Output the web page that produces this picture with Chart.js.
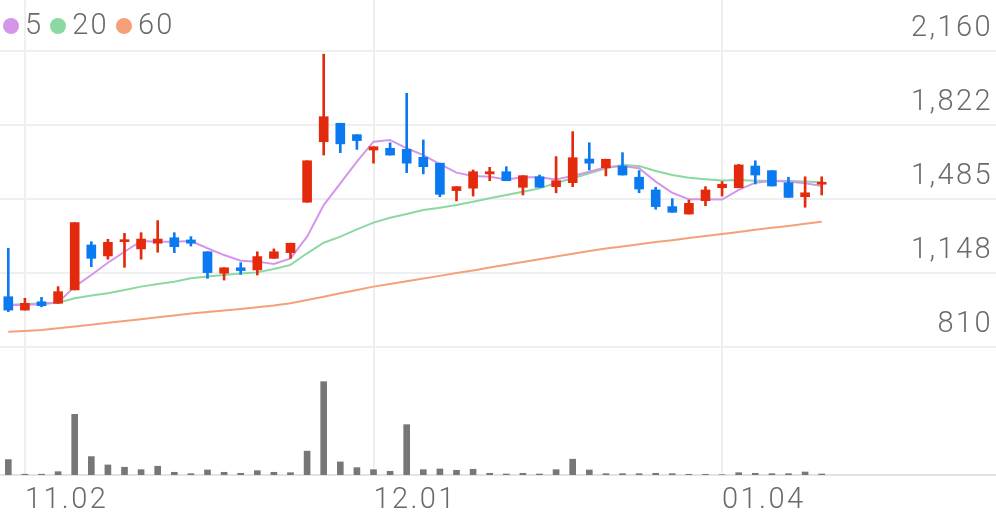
<!DOCTYPE html>
<html>
<head>
<meta charset="utf-8">
<script src="https://cdn.jsdelivr.net/npm/chart.js@4.4.1/dist/chart.umd.min.js"></script>
<style>
  html, body { margin: 0; padding: 0; background: #fff; }
  #wrap { position: relative; width: 996px; height: 519px; }
  #legend {
    position: absolute; left: 3px; top: 8px;
    display: flex; align-items: center; gap: 7px;
    font-family: Roboto, sans-serif; font-weight: 300; font-size: 29px;
    letter-spacing: 2.2px; line-height: 32px; color: #6a6a6a;
  }
  #legend .item { display: flex; align-items: center; }
  #legend .dot { width: 16px; height: 16px; border-radius: 50%; margin: 3px 6px 0 0; }
</style>
</head>
<body>
<div id="wrap">
  <canvas id="chart" width="996" height="519"></canvas>
  <div id="legend"></div>
</div>
<script>
// Торговые дни (ноябрь 2023 - январь 2024)
const dates = [
    '11.01', '11.02', '11.03', '11.06', '11.07', '11.08', '11.09', '11.10', '11.13', '11.14',
    '11.15', '11.16', '11.17', '11.20', '11.21', '11.22', '11.23', '11.24', '11.27', '11.28',
    '11.29', '11.30', '12.01', '12.04', '12.05', '12.06', '12.07', '12.08', '12.11', '12.12',
    '12.13', '12.14', '12.15', '12.18', '12.19', '12.20', '12.21', '12.22', '12.26', '12.27',
    '12.28', '01.02', '01.03', '01.04', '01.05', '01.08', '01.09', '01.10', '01.11', '01.12'
];
const emptySlots = 10; // пустое место справа
const shownDates = ['11.02', '12.01', '01.04'];

// Свечи
const openPrices = [1038, 977, 1015, 1008, 1069, 1274, 1224, 1289, 1256, 1282, 1307, 1297, 1243, 1145, 1170, 1160, 1213, 1239, 1469, 1745, 1829, 1777, 1707, 1715, 1710, 1674, 1647, 1522, 1533, 1598, 1608, 1537, 1585, 1540, 1558, 1666, 1626, 1634, 1583, 1525, 1449, 1415, 1476, 1535, 1535, 1634, 1613, 1558, 1494, 1551];
const highPrices = [1259, 1031, 1035, 1084, 1376, 1289, 1300, 1327, 1330, 1385, 1330, 1312, 1243, 1170, 1193, 1243, 1256, 1282, 1658, 2144, 1829, 1777, 1722, 1740, 1966, 1753, 1647, 1540, 1616, 1628, 1631, 1590, 1593, 1677, 1791, 1740, 1665, 1695, 1613, 1537, 1485, 1479, 1540, 1563, 1641, 1658, 1613, 1583, 1585, 1585];
const lowPrices = [970, 977, 992, 1008, 1069, 1175, 1209, 1172, 1209, 1241, 1239, 1269, 1122, 1114, 1140, 1137, 1213, 1213, 1469, 1684, 1695, 1710, 1647, 1684, 1604, 1598, 1494, 1475, 1497, 1567, 1567, 1502, 1537, 1512, 1540, 1616, 1589, 1593, 1512, 1437, 1423, 1415, 1453, 1497, 1535, 1552, 1543, 1491, 1446, 1502];
const closePrices = [977, 1008, 997, 1061, 1376, 1213, 1286, 1297, 1301, 1301, 1266, 1282, 1148, 1170, 1157, 1221, 1243, 1282, 1658, 1859, 1735, 1750, 1722, 1684, 1647, 1631, 1505, 1540, 1608, 1608, 1567, 1590, 1537, 1567, 1672, 1647, 1665, 1593, 1529, 1449, 1423, 1464, 1525, 1551, 1639, 1593, 1543, 1491, 1512, 1560];

// Скользящие средние
const ma5 = [1000, 1000, 1005, 1011, 1084, 1137, 1193, 1243, 1292, 1289, 1289, 1292, 1259, 1228, 1202, 1198, 1187, 1213, 1312, 1456, 1555, 1654, 1745, 1753, 1715, 1684, 1643, 1604, 1589, 1585, 1573, 1583, 1583, 1573, 1589, 1608, 1628, 1634, 1624, 1563, 1512, 1482, 1482, 1481, 1525, 1558, 1566, 1563, 1555, 1543];
const ma20 = [1000, 1005, 1007, 1011, 1031, 1044, 1054, 1069, 1084, 1096, 1106, 1122, 1130, 1137, 1144, 1149, 1164, 1183, 1236, 1284, 1312, 1345, 1376, 1398, 1415, 1433, 1444, 1456, 1471, 1487, 1502, 1517, 1532, 1557, 1578, 1601, 1624, 1639, 1634, 1611, 1593, 1581, 1574, 1568, 1570, 1567, 1567, 1566, 1563, 1560];
const ma60 = [878, 882, 886, 894, 902, 910, 919, 927, 935, 944, 952, 961, 968, 975, 982, 990, 998, 1008, 1023, 1038, 1054, 1069, 1084, 1096, 1109, 1121, 1133, 1146, 1158, 1171, 1184, 1196, 1209, 1221, 1234, 1246, 1258, 1267, 1277, 1287, 1296, 1306, 1315, 1324, 1333, 1343, 1352, 1361, 1371, 1380];

// Объём
const volumes = [153, 8, 8, 33, 603, 183, 100, 77, 53, 87, 27, 13, 50, 27, 17, 43, 27, 23, 237, 927, 130, 73, 53, 37, 500, 53, 60, 47, 57, 17, 10, 17, 10, 53, 157, 50, 13, 13, 13, 17, 13, 7, 7, 3, 23, 17, 13, 13, 30, 10];

// Шкала цены
const priceTicks = [810, 1147.5, 1485, 1822.5, 2160];
const priceTickLabels = ['810', '1,148', '1,485', '1,822', '2,160'];

const upColor = '#e42a0c';
const downColor = '#0b7af0';
const gridColor = '#efefef';
const textColor = '#6a6a6a';
const tickFont = { family: 'Roboto', size: 29, weight: '300' };
const letterSpacing = '2.4px';

function candleColor(ctx) {
    const i = ctx.dataIndex;
    return closePrices[i] >= openPrices[i] ? upColor : downColor;
}

function maDataset(label, data, color) {
    return {
        type: 'line',
        label: label,
        data: data,
        borderColor: color,
        backgroundColor: color,
        borderWidth: 2,
        pointRadius: 0,
        tension: 0,
        yAxisID: 'y',
        order: 3
    };
}

// Разрядка букв для подписей осей
const spacingPlugin = {
    id: 'spacing',
    beforeLayout(chart) { chart.ctx.letterSpacing = letterSpacing; },
    beforeDraw(chart) { chart.ctx.letterSpacing = letterSpacing; }
};

// HTML-легенда поверх графика
const htmlLegendPlugin = {
    id: 'htmlLegend',
    afterUpdate(chart) {
        const box = document.getElementById('legend');
        box.innerHTML = '';
        const items = chart.options.plugins.legend.labels.generateLabels(chart)
            .filter(item => ['5', '20', '60'].includes(item.text));
        items.forEach(item => {
            const el = document.createElement('span');
            el.className = 'item';
            const dot = document.createElement('span');
            dot.className = 'dot';
            dot.style.background = item.fillStyle;
            const txt = document.createElement('span');
            txt.textContent = item.text;
            el.appendChild(dot);
            el.appendChild(txt);
            box.appendChild(el);
        });
    }
};

new Chart(document.getElementById('chart'), {
    type: 'bar',
    data: {
        labels: dates.concat(new Array(emptySlots).fill('')),
        datasets: [
            maDataset('5', ma5, '#d596ea'),
            maDataset('20', ma20, '#8bd9a0'),
            maDataset('60', ma60, '#f6a07a'),
            {
                label: 'wick',
                data: lowPrices.map((l, i) => [l, highPrices[i]]),
                backgroundColor: candleColor,
                barThickness: 2,
                yAxisID: 'y',
                order: 1
            },
            {
                label: 'body',
                data: openPrices.map((o, i) => [o, closePrices[i]]),
                backgroundColor: candleColor,
                barThickness: 9,
                minBarLength: 2,
                yAxisID: 'y',
                order: 0
            },
            {
                label: 'volume',
                data: volumes,
                backgroundColor: '#777777',
                barThickness: 6,
                yAxisID: 'yv',
                order: 2
            }
        ]
    },
    plugins: [spacingPlugin, htmlLegendPlugin],
    options: {
        responsive: false,
        animation: false,
        events: [],
        layout: { padding: 0 },
        datasets: { bar: { grouped: false, borderWidth: 0 } },
        plugins: {
            legend: { display: false },
            tooltip: { enabled: false }
        },
        scales: {
            x: {
                offset: true,
                grid: {
                    offset: false,
                    drawTicks: false,
                    lineWidth: 2,
                    color: ctx => shownDates.includes(dates[ctx.index]) ? gridColor : 'rgba(0,0,0,0)'
                },
                border: { color: '#e4e4e4', width: 2 },
                ticks: {
                    autoSkip: false,
                    maxRotation: 0,
                    align: 'start',
                    padding: 8,
                    color: textColor,
                    font: tickFont,
                    callback: (v, i) => shownDates.includes(dates[i]) ? dates[i] : ''
                },
                afterFit: scale => { scale.height = 44; }
            },
            y: {
                position: 'right',
                min: 224.9,
                max: 2391.2,
                grid: { drawTicks: false, lineWidth: 2, color: gridColor },
                border: { display: false },
                ticks: {
                    mirror: true,
                    padding: -3,
                    labelOffset: -22,
                    color: textColor,
                    font: tickFont,
                    callback: (v, i) => priceTickLabels[i]
                },
                afterBuildTicks: scale => { scale.ticks = priceTicks.map(v => ({ value: v })); },
                afterFit: scale => {
                    scale.width = 0;
                    scale.paddingTop = 0;
                    scale.paddingBottom = 0;
                }
            },
            yv: {
                display: false,
                min: 0,
                max: 4719
            }
        }
    }
});
</script>
</body>
</html>
